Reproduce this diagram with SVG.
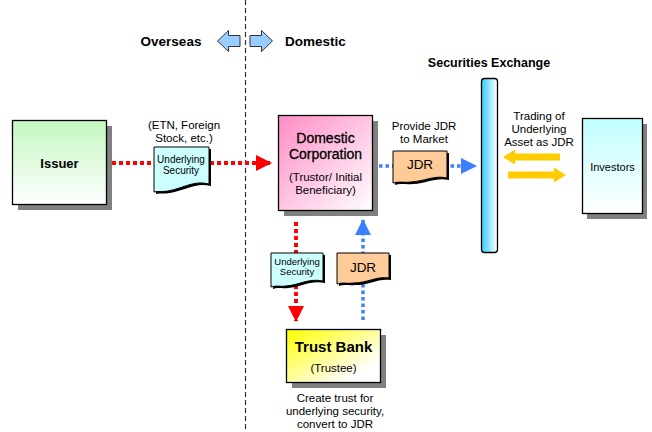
<svg xmlns="http://www.w3.org/2000/svg" width="652" height="432" viewBox="0 0 652 432">
<style>
text{font-family:"Liberation Sans",Arial,sans-serif;fill:#000}
.b{font-weight:bold}
.box{stroke:#000;stroke-width:1.3}
.sh{fill:#808080}
.doc{stroke:#000;stroke-width:1}
.red{stroke:#ff0000;stroke-width:4;stroke-dasharray:4 3;fill:none}
.blue{stroke:#3d7fff;stroke-width:3.5;stroke-dasharray:3.5 3;fill:none}
.ya{fill:#ffcc00}
</style>
<defs>
<linearGradient id="gGreen" x1="0" y1="0" x2="0" y2="1"><stop offset="0" stop-color="#c4f8c0"/><stop offset="1" stop-color="#ffffff"/></linearGradient>
<linearGradient id="gPink" x1="0" y1="0" x2="1" y2="1"><stop offset="0" stop-color="#ff8cc6"/><stop offset="1" stop-color="#ffffff"/></linearGradient>
<linearGradient id="gYellow" x1="0" y1="0" x2="1" y2="1"><stop offset="0" stop-color="#ffff00"/><stop offset="0.8" stop-color="#ffffff"/></linearGradient>
<linearGradient id="gCyan" x1="0" y1="0" x2="0" y2="1"><stop offset="0" stop-color="#c0ffff"/><stop offset="1" stop-color="#ffffff"/></linearGradient>
<linearGradient id="gBar" x1="0" y1="0" x2="1" y2="0"><stop offset="0" stop-color="#33ccff"/><stop offset="1" stop-color="#ffffff"/></linearGradient>
<marker id="mRed" markerWidth="16" markerHeight="16" refX="15" refY="8" orient="auto" markerUnits="userSpaceOnUse"><path d="M0,0 L16,8 L0,16 Z" fill="#ff0000"/></marker>
<marker id="mBlue" markerWidth="16" markerHeight="16" refX="15" refY="8" orient="auto" markerUnits="userSpaceOnUse"><path d="M0,0 L16,8 L0,16 Z" fill="#3d7fff"/></marker>
</defs>
<rect width="652" height="432" fill="#fff"/>

<line x1="245.5" y1="0" x2="245.5" y2="432" stroke="#333" stroke-width="1.2" stroke-dasharray="5 3"/>

<g id="header">
<text x="171" y="46" class="b" font-size="13.5" text-anchor="middle">Overseas</text>
<path d="M217.5,41 L228.5,30.5 V35.5 H240 V46.5 H228.5 V51.5 Z" fill="#99ccff" stroke="#333" stroke-width="1"/>
<path d="M272.5,41 L261.5,30.5 V35.5 H250 V46.5 H261.5 V51.5 Z" fill="#99ccff" stroke="#333" stroke-width="1"/>
<text x="315.5" y="46" class="b" font-size="13.5" text-anchor="middle">Domestic</text>
</g>

<g id="connectors">
<line x1="112" y1="163" x2="271" y2="163" class="red" marker-end="url(#mRed)"/>
<line x1="379" y1="166" x2="476" y2="166" class="blue" marker-end="url(#mBlue)"/>
<line x1="296" y1="222" x2="296" y2="321" class="red" marker-end="url(#mRed)"/>
<line x1="363" y1="320" x2="363" y2="220" class="blue" marker-end="url(#mBlue)"/>
<path class="ya" d="M503,157 L515,149.5 V153.5 H560 V160.5 H515 V164.5 Z"/>
<path class="ya" d="M566,175 L554,167.5 V171.5 H508 V178.5 H554 V182.5 Z"/>
</g>

<g id="issuer">
<rect x="18" y="126" width="94" height="84" class="sh"/>
<rect x="12.5" y="120.5" width="94" height="84" fill="url(#gGreen)" class="box"/>
<text x="59.5" y="168" font-size="13" class="b" text-anchor="middle">Issuer</text>
</g>

<g id="underlying1">
<text x="184" y="129" font-size="11.5" text-anchor="middle">(ETN, Foreign</text>
<text x="184" y="142" font-size="11.5" text-anchor="middle">Stock, etc.)</text>
<path d="M156,149 H211 V186 C196,182 186,190 170,193 C164,194 160,193 156,194 Z" fill="#000"/>
<path d="M154,147 H209 V184 C194,180 184,188 168,191 C162,192 158,191 154,192 Z" fill="#ccffff" class="doc"/>
<text x="181" y="163" font-size="10" text-anchor="middle">Underlying</text>
<text x="181" y="174" font-size="10" text-anchor="middle">Security</text>
</g>

<g id="domestic">
<rect x="284" y="121" width="94" height="95" class="sh"/>
<rect x="278.5" y="115.5" width="94" height="95" fill="url(#gPink)" class="box"/>
<text x="325.5" y="143" font-size="14" class="b" fill="#000" text-anchor="middle" style="font-weight:normal;stroke:#000;stroke-width:0.3">Domestic</text>
<text x="325.5" y="159" font-size="14" text-anchor="middle" style="stroke:#000;stroke-width:0.3">Corporation</text>
<text x="325.5" y="181" font-size="11.5" text-anchor="middle">(Trustor/ Initial</text>
<text x="325.5" y="194" font-size="11.5" text-anchor="middle">Beneficiary)</text>
</g>

<g id="jdr1">
<text x="424" y="130" font-size="11.5" text-anchor="middle">Provide JDR</text>
<text x="424" y="143" font-size="11.5" text-anchor="middle">to Market</text>
<path d="M395,153 H449 V180 C436,177 428,183 413,184 C406,185 401,183 395,185 Z" fill="#000"/>
<path d="M393,151 H447 V178 C434,175 426,181 411,182 C404,183 399,181 393,183 Z" fill="#ffcc99" class="doc"/>
<text x="420" y="169" font-size="13.5" text-anchor="middle">JDR</text>
</g>

<g id="exchange">
<text x="489" y="67" font-size="12.5" class="b" text-anchor="middle">Securities Exchange</text>
<rect x="481.5" y="78.5" width="16" height="174" rx="3" fill="url(#gBar)" class="box"/>
</g>

<g id="trading">
<text x="539" y="120" font-size="11.5" text-anchor="middle">Trading of</text>
<text x="539" y="133" font-size="11.5" text-anchor="middle">Underlying</text>
<text x="539" y="146" font-size="11.5" text-anchor="middle">Asset as JDR</text>
</g>

<g id="investors">
<rect x="587" y="124" width="60" height="95" class="sh"/>
<rect x="582.5" y="118.5" width="60" height="95" fill="url(#gCyan)" class="box"/>
<text x="612.5" y="171" font-size="11" text-anchor="middle">Investors</text>
</g>

<g id="underlying2">
<path d="M273,255 H325 V283 C310,280 302,287 288,288 C282,289 278,287 273,289 Z" fill="#000"/>
<path d="M271,253 H323 V281 C308,278 300,285 286,286 C280,287 276,285 271,287 Z" fill="#ccffff" class="doc"/>
<text x="297" y="265" font-size="9.5" text-anchor="middle">Underlying</text>
<text x="297" y="275" font-size="9.5" text-anchor="middle">Security</text>
</g>

<g id="jdr2">
<path d="M339,255 H391 V280 C378,278 370,285 355,285 C349,286 344,284 339,286 Z" fill="#000"/>
<path d="M337,253 H389 V278 C376,276 368,283 353,283 C347,284 342,282 337,284 Z" fill="#ffcc99" class="doc"/>
<text x="363" y="272" font-size="13.5" text-anchor="middle">JDR</text>
</g>

<g id="trustbank">
<rect x="292" y="335" width="94" height="53" class="sh"/>
<rect x="286.5" y="329.5" width="94" height="53" fill="url(#gYellow)" class="box"/>
<text x="333.5" y="352" font-size="15" class="b" text-anchor="middle">Trust Bank</text>
<text x="333.5" y="372" font-size="11.5" text-anchor="middle">(Trustee)</text>
<text x="335" y="402" font-size="11.5" text-anchor="middle">Create trust for</text>
<text x="335" y="415" font-size="11.5" text-anchor="middle">underlying security,</text>
<text x="335" y="428" font-size="11.5" text-anchor="middle">convert to JDR</text>
</g>
</svg>
